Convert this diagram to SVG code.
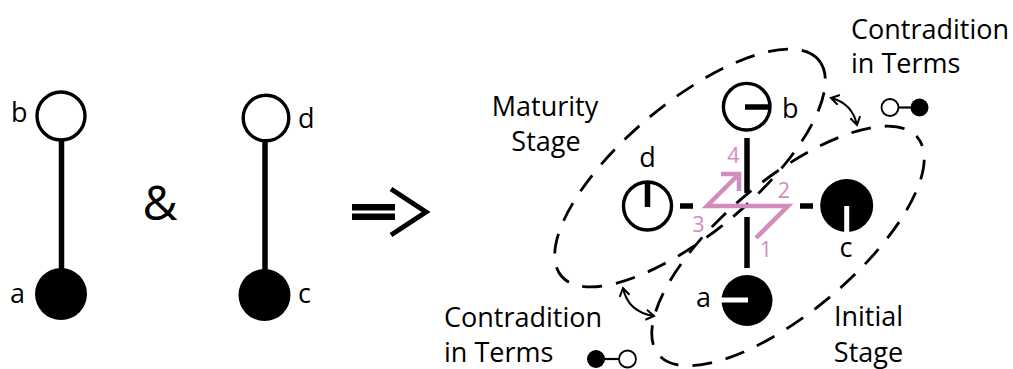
<svg xmlns="http://www.w3.org/2000/svg" width="1013" height="369" viewBox="0 0 1013 369">
  <defs>
    <style>
      .txt { font-family: "Open Sans", "Liberation Sans", sans-serif; font-size: 27px; fill: #000; }
      .num { font-family: "Open Sans", "Liberation Sans", sans-serif; font-size: 21.5px; fill: #d48bbd; }
      .ring { fill: #fff; stroke: #000; stroke-width: 3.4; }
      .disc { fill: #000; }
      .bar { stroke: #000; stroke-width: 5.5; fill: none; }
      .wbar { stroke: #fff; stroke-width: 5; fill: none; }
      .stage { fill: none; stroke: #000; stroke-width: 2.8; stroke-dasharray: 20 14; }
      .dbl { fill: none; stroke: #000; stroke-width: 2; marker-start: url(#tip); marker-end: url(#tip); }
      .pink { fill: none; stroke: #d48bbd; stroke-width: 4.5; stroke-linejoin: miter; stroke-linecap: butt; }
    </style>
    <marker id="tip" viewBox="-10 -6 12 12" refX="0" refY="0" markerWidth="12" markerHeight="12" markerUnits="userSpaceOnUse" orient="auto-start-reverse">
      <path d="M -8 -5 L 0 0 L -8 5" fill="none" stroke="#000" stroke-width="2"/>
    </marker>
  </defs>

  <!-- first pair: b over a -->
  <g id="pair-ab">
    <line class="bar" x1="61.5" y1="141" x2="61.5" y2="270"/>
    <circle class="ring" cx="61" cy="116" r="24"/>
    <circle class="disc" cx="61" cy="294" r="26"/>
    <text class="txt" x="11" y="122">b</text>
    <text class="txt" x="10" y="303">a</text>
  </g>

  <text class="txt" x="160" y="220" style="font-size:48px" text-anchor="middle">&amp;</text>

  <!-- second pair: d over c -->
  <g id="pair-dc">
    <line class="bar" x1="265" y1="142" x2="265" y2="272"/>
    <circle class="ring" cx="266" cy="118" r="22.8"/>
    <circle class="disc" cx="264.5" cy="295" r="26"/>
    <text class="txt" x="298" y="128">d</text>
    <text class="txt" x="298" y="303">c</text>
  </g>

  <!-- implication sign -->
  <g id="implies">
    <rect x="352" y="204" width="43" height="6.5"/>
    <rect x="352" y="213.5" width="43" height="6.5"/>
    <polyline points="391,189 426,212 391,235" fill="none" stroke="#000" stroke-width="5"/>
  </g>

  <!-- stage regions -->
  <g id="connectors">
    <ellipse class="stage" cx="690" cy="168" rx="168" ry="65" transform="rotate(-40 690 168)"/>
    <ellipse class="stage" cx="788" cy="246" rx="169" ry="66" stroke-dashoffset="10" transform="rotate(-40 788 246)"/>
    <path class="dbl" d="M 831 98 Q 852 103 857 125"/>
    <path class="dbl" d="M 623 288 Q 628 312 654 316"/>

    <!-- cross between the four states -->
    <line class="bar" x1="747" y1="138" x2="747" y2="193"/>
    <line class="bar" x1="747" y1="217" x2="747" y2="268"/>
    <line class="bar" x1="680" y1="206" x2="693" y2="206"/>
    <line class="bar" x1="800" y1="206" x2="813" y2="206"/>

    <!-- transition path 1-2-3-4 -->
    <polyline class="pink" points="756,238 788,206 707,206 739,174"/>
    <polyline class="pink" points="721,174 739,174 739,191"/>
  </g>

  <g id="node-b">
    <circle class="ring" cx="746.7" cy="106.7" r="23.3"/>
    <line class="bar" x1="745" y1="107" x2="771" y2="107"/>
    <text class="txt" x="782" y="118">b</text>
  </g>
  <g id="node-d">
    <circle class="ring" cx="647.5" cy="206" r="24"/>
    <line class="bar" x1="647.5" y1="182" x2="647.5" y2="207"/>
    <text class="txt" x="647.5" y="167" text-anchor="middle">d</text>
  </g>
  <g id="node-c">
    <circle class="disc" cx="846.7" cy="205.5" r="26.5"/>
    <line class="wbar" x1="846.7" y1="206" x2="846.7" y2="233"/>
    <text class="txt" x="846" y="257" text-anchor="middle">c</text>
  </g>
  <g id="node-a">
    <circle class="disc" cx="747" cy="300.5" r="25.5"/>
    <line class="wbar" x1="721" y1="300" x2="748" y2="300"/>
    <text class="txt" x="696" y="307">a</text>
  </g>

  <g id="step-labels">
    <text class="num" x="766" y="257" text-anchor="middle">1</text>
    <text class="num" x="784" y="198" text-anchor="middle">2</text>
    <text class="num" x="698.5" y="232" text-anchor="middle">3</text>
    <text class="num" x="733.5" y="163" text-anchor="middle">4</text>
  </g>

  <g id="label-maturity">
    <text class="txt" x="545" y="116" text-anchor="middle">Maturity</text>
    <text class="txt" x="546" y="151" text-anchor="middle">Stage</text>
  </g>
  <g id="label-initial">
    <text class="txt" x="868.5" y="326" text-anchor="middle">Initial</text>
    <text class="txt" x="868.5" y="362" text-anchor="middle">Stage</text>
  </g>

  <g id="contradiction-top">
    <text class="txt" x="851" y="39">Contradition</text>
    <text class="txt" x="851" y="73">in Terms</text>
    <line x1="898" y1="107.5" x2="912" y2="107.5" stroke="#000" stroke-width="2.2"/>
    <circle cx="890" cy="107.5" r="8.5" fill="#fff" stroke="#000" stroke-width="1.8"/>
    <circle cx="919.5" cy="107.5" r="9"/>
  </g>
  <g id="contradiction-bottom">
    <text class="txt" x="444" y="327">Contradition</text>
    <text class="txt" x="444" y="362">in Terms</text>
    <line x1="604" y1="359" x2="619" y2="359" stroke="#000" stroke-width="2.2"/>
    <circle cx="596" cy="359" r="9"/>
    <circle cx="627.5" cy="359" r="8.5" fill="#fff" stroke="#000" stroke-width="1.8"/>
  </g>
</svg>
